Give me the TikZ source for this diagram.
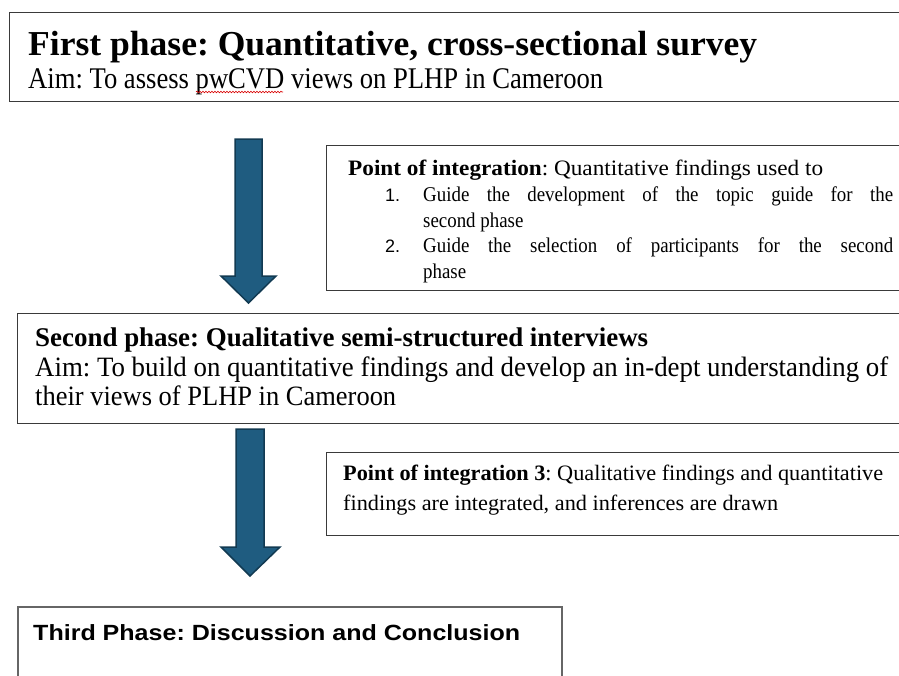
\documentclass[tikz,border=0pt]{standalone}
\usepackage{fontspec}
\setmainfont{Liberation Serif}
\newfontfamily\listsans{Liberation Sans}
\usepackage{graphicx}
\usetikzlibrary{decorations.pathmorphing}
\frenchspacing

\definecolor{arrowfill}{HTML}{1F5C80}
\definecolor{arrowline}{HTML}{123A52}
\definecolor{framegray}{HTML}{3A3A3A}
\definecolor{framelight}{HTML}{666666}

% scale a line of text horizontally to a given width
\newsavebox\fitbox
\newcommand\fitw[2]{\sbox\fitbox{#2}\scalebox{\fpeval{(#1)/(\the\wd\fitbox)}}[1]{\usebox\fitbox}}
% a justified list line, condensed like the rest of the text
\newcommand\justline[1]{\scalebox{0.9}[1]{\makebox[522.2pt][s]{#1}}}
\newcommand\condensed[1]{\scalebox{0.9}[1]{#1}}

\begin{document}
\begin{tikzpicture}[x=1pt,y=-1pt,
  box/.style={draw=framegray, line width=1.3pt, anchor=north west, inner sep=0pt},
  txt/.style={anchor=base west, inner sep=0pt, text=black},
  blockarrow/.style={fill=arrowfill, draw=arrowline, line width=1.5pt, line join=miter}]
\useasboundingbox (0,0) rectangle (899,675);
\clip (0,0) rectangle (899,675);

% first phase
\node[box, minimum width=896pt, minimum height=89pt] (phase1) at (9,12) {};
\node[txt, font=\fontsize{35}{40}\selectfont\bfseries] (phase1title) at (28,55)
  {\fitw{729pt}{First phase: Quantitative, cross-sectional survey}};
\node[txt, font=\fontsize{30}{34}\selectfont] (phase1aim) at (28,88)
  {\fitw{575pt}{Aim: To assess pwCVD views on PLHP in Cameroon}};
\draw[red!85!black, line width=0.6pt, decorate,
      decoration={snake, amplitude=0.8pt, segment length=3pt}] (196,92) -- (283,92);

% arrow down to the second phase
\draw[blockarrow] (235,139) -- (262,139) -- (262,276) -- (276,276) -- (248.5,303)
  -- (221,276) -- (235,276) -- cycle;

% first point of integration
\node[box, minimum width=579pt, minimum height=145pt] (integ1) at (326,145) {};
\node[txt, font=\fontsize{22}{25}\selectfont] (integ1head) at (348,175)
  {\fitw{475pt}{\textbf{Point of integration}: Quantitative findings used to}};
\node[txt, font=\listsans\fontsize{18}{20}\selectfont] (num1) at (385,201) {1.};
\node[txt, font=\fontsize{21}{24}\selectfont] (item1a) at (423,201)
  {\justline{Guide the development of the topic guide for the}};
\node[txt, font=\fontsize{21}{24}\selectfont] (item1b) at (423,227) {\condensed{second phase}};
\node[txt, font=\listsans\fontsize{18}{20}\selectfont] (num2) at (385,252) {2.};
\node[txt, font=\fontsize{21}{24}\selectfont] (item2a) at (423,252)
  {\justline{Guide the selection of participants for the second}};
\node[txt, font=\fontsize{21}{24}\selectfont] (item2b) at (423,278) {\condensed{phase}};

% second phase
\node[box, minimum width=888pt, minimum height=110pt] (phase2) at (17,313) {};
\node[txt, font=\fontsize{27}{31}\selectfont\bfseries] (phase2title) at (35,346)
  {\fitw{613pt}{Second phase: Qualitative semi-structured interviews}};
\node[txt, font=\fontsize{28}{32}\selectfont] (phase2aim) at (35,376)
  {\fitw{853pt}{Aim: To build on quantitative findings and develop an in-dept understanding of}};
\node[txt, font=\fontsize{28}{32}\selectfont] (phase2aimb) at (35,405)
  {\fitw{361pt}{their views of PLHP in Cameroon}};

% arrow down to the third phase
\draw[blockarrow] (236,429) -- (264,429) -- (264,547) -- (280,547) -- (250,576)
  -- (221,547) -- (236,547) -- cycle;

% second point of integration
\node[box, minimum width=579pt, minimum height=83pt] (integ2) at (326,452) {};
\node[txt, font=\fontsize{22}{25}\selectfont] (integ2a) at (343,480)
  {\fitw{540pt}{\textbf{Point of integration 3}: Qualitative findings and quantitative}};
\node[txt, font=\fontsize{22}{25}\selectfont] (integ2b) at (343,510)
  {\fitw{435pt}{findings are integrated, and inferences are drawn}};

% third phase
\node[box, draw=framelight, line width=1.6pt, minimum width=544pt, minimum height=90pt] (phase3) at (17,606) {};
\node[txt, font=\listsans\fontsize{22}{26}\selectfont\bfseries] (phase3title) at (33,640)
  {\fitw{487pt}{Third Phase: Discussion and Conclusion}};
\end{tikzpicture}
\end{document}
